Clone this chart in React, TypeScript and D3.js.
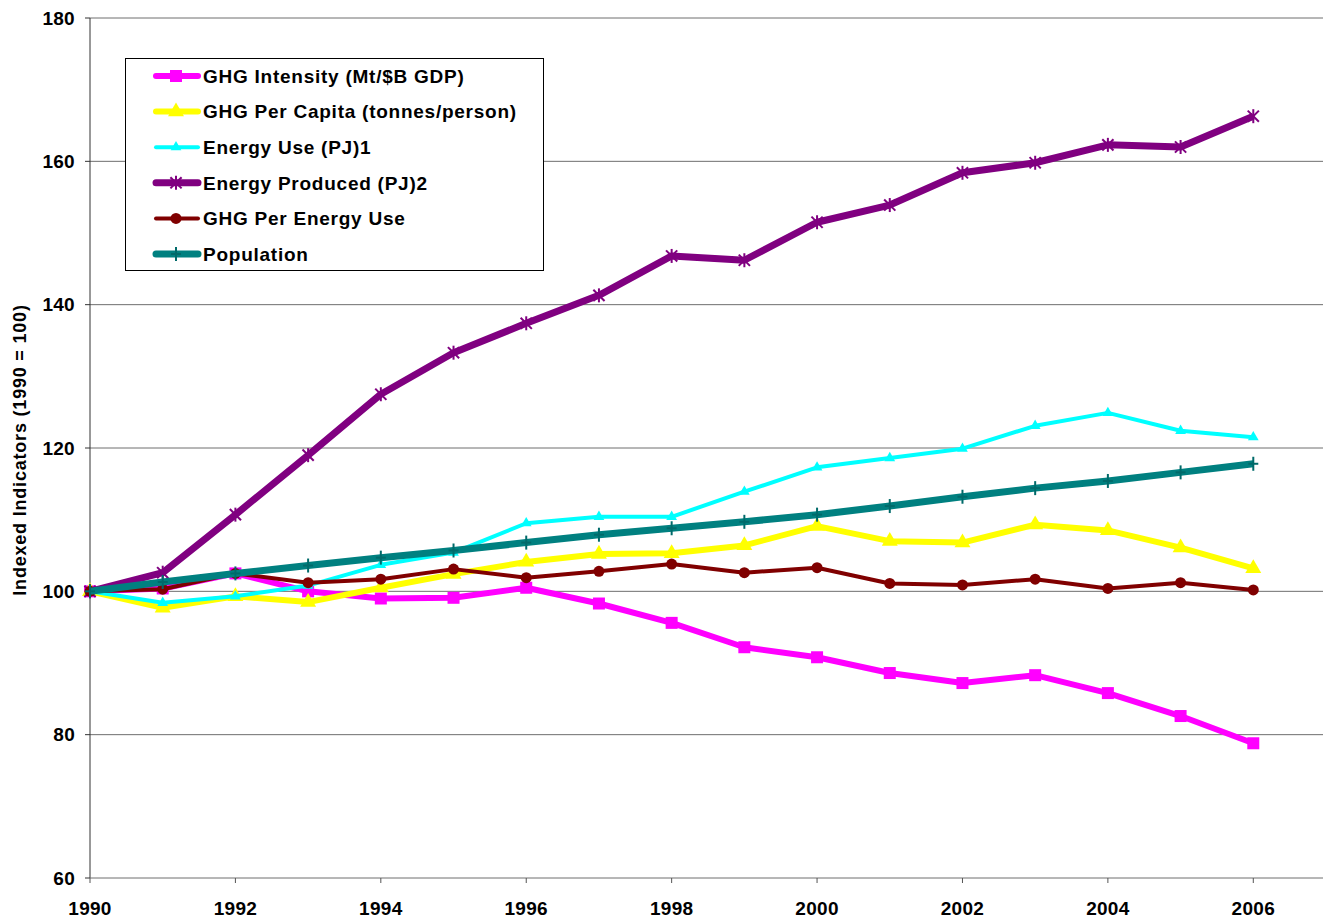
import React from 'react';
import * as d3 from 'd3';

const years = [1990, 1991, 1992, 1993, 1994, 1995, 1996, 1997, 1998, 1999, 2000, 2001, 2002, 2003, 2004, 2005, 2006];

const ghgIntensity = [100, 100.4, 102.5, 100.0, 99.0, 99.1, 100.5, 98.3, 95.6, 92.2, 90.8, 88.6, 87.2, 88.3, 85.8, 82.6, 78.8];
const ghgPerCapita = [100, 97.7, 99.3, 98.5, 100.5, 102.4, 104.1, 105.2, 105.3, 106.4, 109.1, 107.0, 106.8, 109.3, 108.5, 106.1, 103.2];
const energyUse = [100, 98.4, 99.3, 100.8, 103.7, 105.4, 109.5, 110.4, 110.4, 113.9, 117.3, 118.6, 119.9, 123.1, 124.9, 122.4, 121.5];
const energyProduced = [100, 102.6, 110.7, 119.0, 127.5, 133.3, 137.4, 141.3, 146.8, 146.2, 151.5, 153.9, 158.4, 159.8, 162.3, 162.0, 166.3];
const ghgPerEnergy = [100, 100.3, 102.5, 101.2, 101.7, 103.1, 101.9, 102.8, 103.8, 102.6, 103.3, 101.1, 100.9, 101.7, 100.4, 101.2, 100.2];
const population = [100, 101.3, 102.5, 103.6, 104.7, 105.7, 106.8, 107.9, 108.8, 109.7, 110.7, 111.9, 113.2, 114.4, 115.4, 116.6, 117.8];

const yTicks = [60, 80, 100, 120, 140, 160, 180];
const xTicks = [1990, 1992, 1994, 1996, 1998, 2000, 2002, 2004, 2006];

const series = [
  { name: 'GHG Intensity (Mt/$B GDP)', values: ghgIntensity, color: '#FF00FF', width: 6, marker: 'square' },
  { name: 'GHG Per Capita (tonnes/person)', values: ghgPerCapita, color: '#FFFF00', width: 6, marker: 'triangle' },
  { name: 'Energy Use (PJ)1', values: energyUse, color: '#00FFFF', width: 4, marker: 'smallTriangle' },
  { name: 'Energy Produced (PJ)2', values: energyProduced, color: '#800080', width: 7, marker: 'asterisk' },
  { name: 'GHG Per Energy Use', values: ghgPerEnergy, color: '#800000', width: 4, marker: 'circle' },
  { name: 'Population', values: population, color: '#008080', width: 7, marker: 'plus' },
];

const W = 1323, H = 922;
const left = 90, top = 18, bottom = 878, right = 1326;

const font = '"Liberation Sans", Arial, sans-serif';

function Marker({ type, color, x, y }: { type: string; color: string; x: number; y: number }) {
  if (type === 'square') {
    return <rect x={x - 6} y={y - 6} width={12} height={12} fill={color} />;
  }
  if (type === 'triangle') {
    const p = d3.symbol().type(d3.symbolTriangle).size(110)();
    return <path d={p || ''} transform={`translate(${x},${y})`} fill={color} />;
  }
  if (type === 'smallTriangle') {
    const p = d3.symbol().type(d3.symbolTriangle).size(50)();
    return <path d={p || ''} transform={`translate(${x},${y})`} fill={color} />;
  }
  if (type === 'circle') {
    return <circle cx={x} cy={y} r={5.5} fill={color} />;
  }
  if (type === 'asterisk') {
    const r = 7;
    return (
      <g stroke={color} strokeWidth={2}>
        <line x1={x} y1={y - r} x2={x} y2={y + r} />
        <line x1={x - r * 0.8} y1={y - r * 0.8} x2={x + r * 0.8} y2={y + r * 0.8} />
        <line x1={x - r * 0.8} y1={y + r * 0.8} x2={x + r * 0.8} y2={y - r * 0.8} />
      </g>
    );
  }
  // plus
  return (
    <g stroke="#006a6a" strokeWidth={2}>
      <line x1={x} y1={y - 7} x2={x} y2={y + 7} />
      <line x1={x - 5} y1={y} x2={x + 5} y2={y} />
    </g>
  );
}

export default function App() {
  const x = d3.scaleLinear().domain([1990, 2007]).range([left, right]);
  const y = d3.scaleLinear().domain([60, 180]).range([bottom, top]);

  const line = d3.line<number>()
    .x((_, i) => x(years[i]))
    .y((d) => y(d));

  return (
    <svg width={W} height={H} style={{ position: 'absolute', left: 0, top: 0, background: '#fff' }}
      fontFamily={font} fontWeight="bold">
      {/* gridlines */}
      {yTicks.map((t) => (
        <g key={t}>
          {t !== 60 && <line x1={left} x2={W} y1={y(t)} y2={y(t)} stroke="#6e6e6e" strokeWidth={1} />}
          <line x1={left - 5} x2={left} y1={y(t)} y2={y(t)} stroke="#333" strokeWidth={1} />
          <text x={left - 15} y={y(t)} dy="0.35em" textAnchor="end" fontSize={19} letterSpacing={0.3}>{t}</text>
        </g>
      ))}
      {/* axes */}
      <line x1={left} x2={left} y1={top} y2={bottom} stroke="#333" strokeWidth={1} />
      <line x1={left} x2={W} y1={bottom} y2={bottom} stroke="#6e6e6e" strokeWidth={1} />
      {xTicks.map((t) => (
        <g key={t}>
          <line x1={x(t)} x2={x(t)} y1={bottom} y2={bottom + 5} stroke="#555" strokeWidth={1} />
          <text x={x(t)} y={915} textAnchor="middle" fontSize={19} letterSpacing={0.3}>{t}</text>
        </g>
      ))}
      <text transform={`translate(20,${(top + bottom) / 2 + 2}) rotate(-90)`} dy="0.35em" textAnchor="middle"
        fontSize={18} letterSpacing={0.8}>
        Indexed Indicators (1990 = 100)
      </text>

      {/* series */}
      {series.map((s) => (
        <g key={s.name}>
          <path d={line(s.values) || ''} fill="none" stroke={s.color} strokeWidth={s.width} strokeLinejoin="round" />
          {s.values.map((v, i) => (
            <Marker key={i} type={s.marker} color={s.color} x={x(years[i])} y={y(v)} />
          ))}
        </g>
      ))}

      {/* legend */}
      <rect x={125.5} y={58.5} width={418} height={212} fill="#fff" stroke="#000" strokeWidth={1} />
      {series.map((s, i) => {
        const ly = 76 + i * 35.6;
        return (
          <g key={s.name}>
            <line x1={156} x2={198} y1={ly} y2={ly} stroke={s.color} strokeWidth={s.width} strokeLinecap="round" />
            <Marker type={s.marker} color={s.color} x={176} y={ly} />
            <text x={203} y={ly} dy="0.36em" fontSize={19} letterSpacing={0.75}>{s.name}</text>
          </g>
        );
      })}
    </svg>
  );
}
